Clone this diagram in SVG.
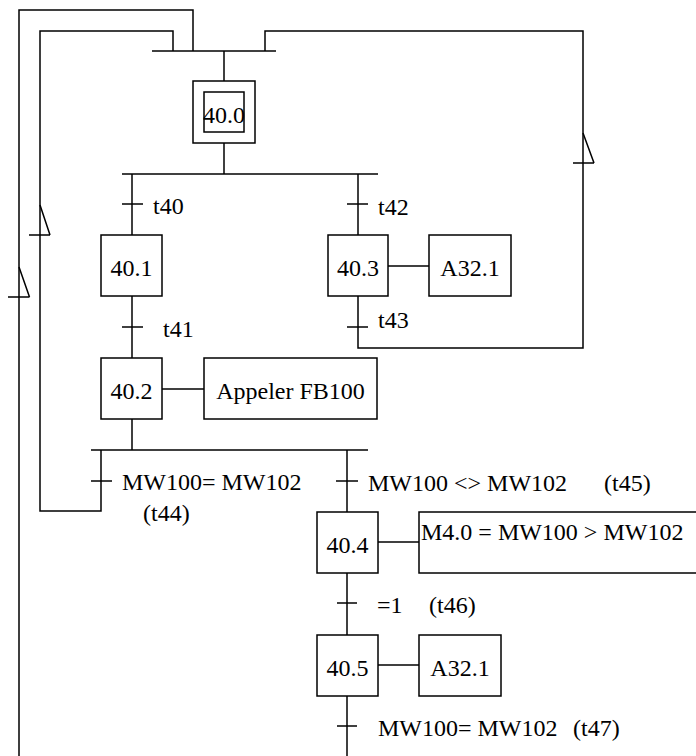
<svg xmlns="http://www.w3.org/2000/svg" width="696" height="756" viewBox="0 0 696 756">
<style>
  .ln { fill: none; stroke: #000; stroke-width: 1.5; }
  .box { fill: #fff; stroke: #000; stroke-width: 1.5; }
  text { font-family: 'Liberation Serif', 'DejaVu Serif', serif; font-size: 24px; fill: #000; }
  .c { text-anchor: middle; }
</style>
<rect width="696" height="756" fill="#fff"/>
<g id="connectors" class="ln">
  <path d="M19,756 V10 H193 V51"/>
  <path d="M101,450 V511 H40 V31 H173 V51"/>
  <path d="M358,296 V348 H583 V31 H265 V51"/>
  <path d="M152,51 H276"/>
  <path d="M224,51 V81"/>
  <path d="M224,143 V174"/>
  <path d="M122,174 H378"/>
  <path d="M132,174 V235"/>
  <path d="M358,174 V235"/>
  <path d="M132,296 V358"/>
  <path d="M132,419 V450"/>
  <path d="M91,450 H368"/>
  <path d="M347,450 V512"/>
  <path d="M347,573 V635"/>
  <path d="M347,696 V756"/>
  <path d="M162,389 H204"/>
  <path d="M388,266 H429"/>
  <path d="M378,542 H419"/>
  <path d="M378,665 H419"/>
  <path d="M40,205 L50,235 M29,235 H50"/>
  <path d="M19,267 L29.5,297 M8,297 H29.5"/>
  <path d="M583,133 L594,163 M573,163 H594"/>
</g>
<g font-family="Liberation Serif, DejaVu Serif, serif">
<g id="t40"><path class="ln" d="M122,204 H143"/><text x="153" y="214">t40</text></g>
<g id="t41"><path class="ln" d="M122,327 H143"/><text x="163" y="337">t41</text></g>
<g id="t42"><path class="ln" d="M347,204 H368"/><text x="378" y="215">t42</text></g>
<g id="t43"><path class="ln" d="M347,327 H368"/><text x="378" y="328">t43</text></g>
<g id="t44"><path class="ln" d="M91,481 H112"/><text x="122" y="490">MW100= MW102</text><text x="143" y="521">(t44)</text></g>
<g id="t45"><path class="ln" d="M336,481 H358"/><text x="368" y="491">MW100 &lt;&gt; MW102</text><text x="604" y="491">(t45)</text></g>
<g id="t46"><path class="ln" d="M337,603 H357"/><text x="377" y="613">=1</text><text x="429" y="613">(t46)</text></g>
<g id="t47"><path class="ln" d="M337,726 H357"/><text x="378" y="736">MW100= MW102</text><text x="573" y="736">(t47)</text></g>
<g id="step40_0">
  <rect class="box" x="193" y="81" width="62" height="62"/>
  <rect class="box" x="204" y="92" width="40" height="40"/>
  <text class="c" x="224" y="123">40.0</text>
</g>
<g id="step40_1"><rect class="box" x="101" y="235" width="61" height="61"/><text class="c" x="131.5" y="276">40.1</text></g>
<g id="step40_3"><rect class="box" x="328" y="235" width="60" height="61"/><text class="c" x="358" y="276">40.3</text></g>
<g id="action40_3"><rect class="box" x="429" y="235" width="82" height="61"/><text class="c" x="470" y="276">A32.1</text></g>
<g id="step40_2"><rect class="box" x="101" y="358" width="61" height="61"/><text class="c" x="131.5" y="399">40.2</text></g>
<g id="action40_2"><rect class="box" x="204" y="358" width="173" height="61"/><text class="c" x="290.5" y="399">Appeler FB100</text></g>
<g id="step40_4"><rect class="box" x="317" y="512" width="61" height="61"/><text class="c" x="347.5" y="553">40.4</text></g>
<g id="action40_4"><rect class="box" x="419" y="512" width="290" height="61"/><text x="421" y="540">M4.0 = MW100 &gt; MW102</text></g>
<g id="step40_5"><rect class="box" x="317" y="635" width="61" height="61"/><text class="c" x="347.5" y="676">40.5</text></g>
<g id="action40_5"><rect class="box" x="419" y="635" width="82" height="61"/><text class="c" x="460" y="676">A32.1</text></g>
</g>
</svg>
